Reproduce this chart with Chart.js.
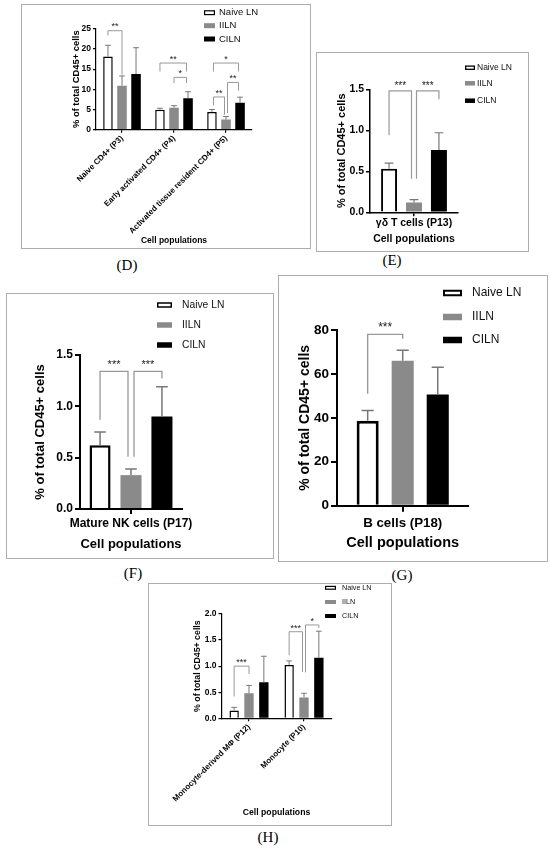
<!DOCTYPE html>
<html><head><meta charset="utf-8">
<script src="https://cdn.jsdelivr.net/npm/chart.js@4.4.1/dist/chart.umd.min.js"></script>
<style>
html,body{margin:0;padding:0;background:#fff}
body{width:550px;height:849px;position:relative;overflow:hidden}
.panel{position:absolute;border:1px solid #adadad;box-sizing:border-box;background:#fff}
.panel canvas{position:absolute;left:0;top:0}
.lab{position:absolute;font-family:"Liberation Serif","DejaVu Serif",serif;font-size:15px;color:#000;transform:translate(-50%,-50%);white-space:nowrap}
</style></head><body>
<div class="panel" style="left:21px;top:4px;width:290px;height:245px"><canvas id="cD" width="288" height="243"></canvas></div>
<div class="panel" style="left:316px;top:52px;width:213px;height:200px"><canvas id="cE" width="211" height="198"></canvas></div>
<div class="panel" style="left:6px;top:293px;width:268px;height:266px"><canvas id="cF" width="266" height="264"></canvas></div>
<div class="panel" style="left:278px;top:275px;width:270px;height:287px"><canvas id="cG" width="268" height="285"></canvas></div>
<div class="panel" style="left:148px;top:583px;width:244px;height:243px"><canvas id="cH" width="242" height="241"></canvas></div>
<div class="lab" style="left:127px;top:265px">(D)</div>
<div class="lab" style="left:392px;top:260px">(E)</div>
<div class="lab" style="left:133px;top:573px">(F)</div>
<div class="lab" style="left:402px;top:575px">(G)</div>
<div class="lab" style="left:268px;top:837px">(H)</div>
<script>
// ---------- data ----------
const seriesNames = ['Naive LN', 'IILN', 'CILN'];
const yTitle = '% of total CD45+ cells';
const xTitle = 'Cell populations';

// Panel D
const dCats = ['Naive CD4+ (P3)', 'Early activated CD4+ (P4)', 'Activated tissue resident CD4+ (P5)'];
const dNaive = [18.1, 4.95, 4.4];
const dNaiveSD = [2.8, 0.35, 0.6];
const dIILN = [10.9, 5.45, 2.5];
const dIILNSD = [2.4, 0.5, 0.75];
const dCILN = [13.8, 7.8, 6.7];
const dCILNSD = [6.5, 1.6, 1.35];
// bracket: [category, fromSeries, toSeries, topValue, leftLegEnd, rightLegEnd, label]
const dBrackets = [
  [0, 0, 1, 24.5, 23.3, 13.6, '**'],
  [1, 0, 2, 16.5, 14.4, 14.4, '**'],
  [1, 1, 2, 12.95, 11.55, 11.55, '*'],
  [2, 0, 2, 16.5, 14.4, 14.4, '*'],
  [2, 0, 1, 8.1, 6.0, 3.7, '**'],
  [2, 1, 2, 11.7, 4.1, 9.65, '**']
];

// Panel E
const eCats = ['γδ T cells (P13)'];
const eNaive = [0.53];
const eNaiveSD = [0.07];
const eIILN = [0.12];
const eIILNSD = [0.035];
const eCILN = [0.76];
const eCILNSD = [0.21];
const eBrackets = [
  [0, 0, 1, 1.48, 0.94, 0.41, '***'],
  [0, 1, 2, 1.48, 0.41, 1.38, '***']
];

// Panel F
const fCats = ['Mature NK cells (P17)'];
const fNaive = [0.62];
const fNaiveSD = [0.13];
const fIILN = [0.33];
const fIILNSD = [0.06];
const fCILN = [0.90];
const fCILNSD = [0.29];
const fBrackets = [
  [0, 0, 1, 1.34, 0.87, 0.51, '***'],
  [0, 1, 2, 1.34, 0.51, 1.27, '***']
];

// Panel G
const gCats = ['B cells (P18)'];
const gNaive = [38.7];
const gNaiveSD = [4.6];
const gIILN = [66.0];
const gIILNSD = [4.8];
const gCILN = [50.6];
const gCILNSD = [12.4];
const gBrackets = [
  [0, 0, 1, 78, 51, 76, '***']
];

// Panel H
const hCats = ['Monocyte-derived MΦ (P12)', 'Monocyte (P10)'];
const hNaive = [0.15, 1.02];
const hNaiveSD = [0.06, 0.08];
const hIILN = [0.48, 0.40];
const hIILNSD = [0.15, 0.08];
const hCILN = [0.69, 1.16];
const hCILNSD = [0.50, 0.51];
const hBrackets = [
  [0, 0, 1, 1.0, 0.42, 0.85, '***'],
  [1, 0, 1, 1.66, 1.21, 0.89, '***'],
  [1, 1, 2, 1.79, 0.88, 1.73, '*']
];

// ---------- drawing ----------
const FONT = '"Liberation Sans", Arial, sans-serif';
const seriesFill = ['#ffffff', '#8a8a8a', '#000000'];

const extras = {
  id: 'extras',
  afterDatasetsDraw(chart, args, o) {
    const ctx = chart.ctx;
    const ys = chart.scales.y;
    // error bars (mean + SD)
    ctx.save();
    ctx.strokeStyle = o.errColor;
    ctx.lineWidth = o.errWidth;
    chart.data.datasets.forEach((ds, di) => {
      const meta = chart.getDatasetMeta(di);
      meta.data.forEach((bar, i) => {
        const top = ys.getPixelForValue(ds.data[i] + ds.sd[i]);
        const w = bar.width * o.capFrac;
        ctx.beginPath();
        ctx.moveTo(bar.x, bar.y);
        ctx.lineTo(bar.x, top);
        ctx.moveTo(bar.x - w / 2, top);
        ctx.lineTo(bar.x + w / 2, top);
        ctx.stroke();
      });
    });
    ctx.restore();
    // significance brackets
    const use = {};
    o.brackets.forEach(b => {
      use[b[0] + '_' + b[1]] = (use[b[0] + '_' + b[1]] || 0) + 1;
      use[b[0] + '_' + b[2]] = (use[b[0] + '_' + b[2]] || 0) + 1;
    });
    ctx.save();
    ctx.strokeStyle = o.brColor;
    ctx.lineWidth = o.brWidth;
    ctx.fillStyle = '#222';
    ctx.font = o.starFont + 'px ' + FONT;
    ctx.textAlign = 'center';
    ctx.textBaseline = 'alphabetic';
    o.brackets.forEach(b => {
      const [c, a, z, top, la, lz, txt] = b;
      let xa = chart.getDatasetMeta(a).data[c].x;
      let xz = chart.getDatasetMeta(z).data[c].x;
      if (use[c + '_' + a] > 1) xa += o.shift;
      if (use[c + '_' + z] > 1) xz -= o.shift;
      const yt = ys.getPixelForValue(top);
      ctx.beginPath();
      ctx.moveTo(xa, ys.getPixelForValue(la));
      ctx.lineTo(xa, yt);
      ctx.lineTo(xz, yt);
      ctx.lineTo(xz, ys.getPixelForValue(lz));
      ctx.stroke();
      ctx.fillText(txt, (xa + xz) / 2, yt - o.starOff + 0.57 * o.starFont);
    });
    ctx.restore();
    // legend
    const L = o.legend;
    ctx.save();
    ctx.font = L.font + 'px ' + FONT;
    ctx.textBaseline = 'middle';
    ctx.textAlign = 'left';
    chart.data.datasets.forEach((ds, di) => {
      const yc = L.rows[di];
      ctx.fillStyle = seriesFill[di];
      ctx.fillRect(L.x, yc - L.h / 2, L.w, L.h);
      if (di === 0) {
        ctx.strokeStyle = '#000';
        ctx.lineWidth = L.bw;
        ctx.strokeRect(L.x + L.bw / 2, yc - L.h / 2 + L.bw / 2, L.w - L.bw, L.h - L.bw);
      }
      ctx.fillStyle = '#111';
      ctx.fillText(ds.label, L.tx, yc);
    });
    ctx.restore();
  }
};

function build(id, c) {
  const dec = c.dec;
  return new Chart(document.getElementById(id), {
    type: 'bar',
    data: {
      labels: c.cats,
      datasets: [
        { label: seriesNames[0], data: c.naive, sd: c.naiveSD, backgroundColor: seriesFill[0], borderColor: '#000', borderWidth: c.bw, borderSkipped: 'bottom' },
        { label: seriesNames[1], data: c.iiln, sd: c.iilnSD, backgroundColor: seriesFill[1], borderWidth: 0 },
        { label: seriesNames[2], data: c.ciln, sd: c.cilnSD, backgroundColor: seriesFill[2], borderWidth: 0 }
      ]
    },
    options: {
      responsive: false,
      animation: false,
      events: [],
      layout: { padding: c.pad },
      datasets: { bar: { categoryPercentage: c.catPct, barPercentage: c.barPct } },
      plugins: {
        legend: { display: false },
        tooltip: { enabled: false },
        extras: c.extras
      },
      scales: {
        x: {
          type: 'category',
          offset: true,
          grid: { display: true, drawOnChartArea: false, offset: false, color: '#000', lineWidth: c.axW, tickLength: c.tl },
          border: { display: true, color: '#000', width: c.axW },
          ticks: { color: '#000', font: { family: FONT, size: c.xtf, weight: 'bold' }, minRotation: c.rot, maxRotation: c.rot, autoSkip: false, padding: c.xtp },
          title: { display: true, text: xTitle, color: '#000', font: { family: FONT, size: c.xtt, weight: 'bold' }, padding: 0 },
          afterFit(s) { s.height = c.hx; }
        },
        y: {
          min: 0,
          max: c.ymax,
          grid: { display: true, drawOnChartArea: false, color: '#000', lineWidth: c.axW, tickLength: c.tl },
          border: { display: true, color: '#000', width: c.axW },
          ticks: { stepSize: c.step, color: '#000', font: { family: FONT, size: c.ytf, weight: 'bold' }, padding: 2,
                   callback: v => Number(v).toFixed(dec) },
          title: { display: true, text: yTitle, color: '#000', font: { family: FONT, size: c.ytt, weight: 'bold' }, padding: 0 },
          afterFit(s) { s.width = c.wy; }
        }
      }
    },
    plugins: [extras]
  });
}

build('cD', {
  cats: dCats, naive: dNaive, naiveSD: dNaiveSD, iiln: dIILN, iilnSD: dIILNSD, ciln: dCILN, cilnSD: dCILNSD,
  ymax: 25, step: 5, dec: 0, bw: 1.5, catPct: 0.81, barPct: 0.68,
  pad: { left: 48.4, top: 23.7, right: 58, bottom: 1.9 }, wy: 25.6, hx: 116.4,
  axW: 1.2, tl: 3, xtf: 8, xtt: 8.5, ytf: 8.5, ytt: 9.4, rot: 45, xtp: 1,
  extras: { errColor: '#777', errWidth: 1, capFrac: 0.6, brackets: dBrackets, brColor: '#999', brWidth: 1, shift: 1.5,
            starFont: 9, starOff: 6.5,
            legend: { x: 182, w: 11, h: 5, bw: 1.2, tx: 197, font: 9.5, rows: [7.7, 20.7, 34] } }
});

build('cE', {
  cats: eCats, naive: eNaive, naiveSD: eNaiveSD, iiln: eIILN, iilnSD: eIILNSD, ciln: eCILN, cilnSD: eCILNSD,
  ymax: 1.5, step: 0.5, dec: 1, bw: 2, catPct: 0.85, barPct: 0.64,
  pad: { left: 18.1, top: 36.3, right: 70, bottom: 5.7 }, wy: 34.9, hx: 33,
  axW: 1.5, tl: 4, xtf: 10.5, xtt: 10.5, ytf: 10.5, ytt: 11, rot: 0, xtp: 1,
  extras: { errColor: '#777', errWidth: 1.2, capFrac: 0.55, brackets: eBrackets, brColor: '#999', brWidth: 1.2, shift: 2.5,
            starFont: 10, starOff: 7.5,
            legend: { x: 148, w: 10, h: 4.5, bw: 1.3, tx: 160, font: 8.5, rows: [14.7, 30.3, 47.7] } }
});

build('cF', {
  cats: fCats, naive: fNaive, naiveSD: fNaiveSD, iiln: fIILN, iilnSD: fIILNSD, ciln: fCILN, cilnSD: fCILNSD,
  ymax: 1.5, step: 0.5, dec: 1, bw: 2.5, catPct: 0.91, barPct: 0.68,
  pad: { left: 25.2, top: 61, right: 91, bottom: 6.2 }, wy: 47.8, hx: 42.8,
  axW: 2, tl: 5, xtf: 12, xtt: 13, ytf: 12, ytt: 13, rot: 0, xtp: 2,
  extras: { errColor: '#777', errWidth: 1.5, capFrac: 0.55, brackets: fBrackets, brColor: '#999', brWidth: 1.3, shift: 3,
            starFont: 11, starOff: 10,
            legend: { x: 150, w: 15, h: 5.5, bw: 1.5, tx: 175, font: 10.3, rows: [11, 31, 51] } }
});

build('cG', {
  cats: gCats, naive: gNaive, naiveSD: gNaiveSD, iiln: gIILN, iilnSD: gIILNSD, ciln: gCILN, cilnSD: gCILNSD,
  ymax: 80, step: 20, dec: 0, bw: 3, catPct: 0.80, barPct: 0.63,
  pad: { left: 17.6, top: 54, right: 78.6, bottom: 9.3 }, wy: 40.4, hx: 46,
  axW: 2, tl: 6, xtf: 13.3, xtt: 14.5, ytf: 13.5, ytt: 14, rot: 0, xtp: 4,
  extras: { errColor: '#777', errWidth: 1.5, capFrac: 0.55, brackets: gBrackets, brColor: '#999', brWidth: 1.4, shift: 2.5,
            starFont: 12, starOff: 10,
            legend: { x: 164, w: 19, h: 6.5, bw: 2, tx: 193, font: 12, rows: [17, 41, 64] } }
});

build('cH', {
  cats: hCats, naive: hNaive, naiveSD: hNaiveSD, iiln: hIILN, iilnSD: hIILNSD, ciln: hCILN, cilnSD: hCILNSD,
  ymax: 2.0, step: 0.5, dec: 1, bw: 1.5, catPct: 0.81, barPct: 0.63,
  pad: { left: 43, top: 30, right: 59.5, bottom: 6.8 }, wy: 29.5, hx: 99.9,
  axW: 1.2, tl: 3, xtf: 8, xtt: 8.7, ytf: 8.5, ytt: 8.8, rot: 45, xtp: 1,
  extras: { errColor: '#777', errWidth: 1, capFrac: 0.6, brackets: hBrackets, brColor: '#999', brWidth: 1, shift: 1.5,
            starFont: 9, starOff: 6,
            legend: { x: 176, w: 11, h: 4, bw: 1.2, tx: 193, font: 7.2, rows: [3.8, 18, 32] } }
});
</script>
</body></html>
